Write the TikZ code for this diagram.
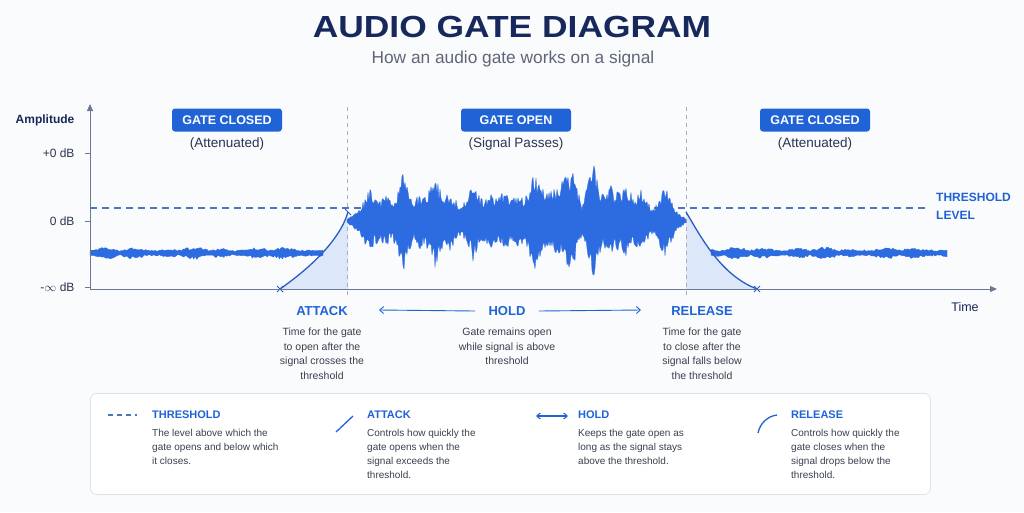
\documentclass[tikz,border=0pt]{standalone}
\usepackage{fontspec}
\setmainfont{Liberation Sans}
\usetikzlibrary{arrows.meta}
\definecolor{navy}{HTML}{16285C}
\definecolor{subgrey}{HTML}{5E6678}
\definecolor{accent}{HTML}{1F63D6}
\definecolor{sigblue}{HTML}{2C6BE0}
\definecolor{curveblue}{HTML}{2A5CC4}
\definecolor{axisc}{HTML}{6B7895}
\definecolor{vdash}{HTML}{A7AEBB}
\definecolor{thrc}{HTML}{4B74C4}
\definecolor{areablue}{HTML}{DCE7FA}
\definecolor{txt}{HTML}{39404E}
\definecolor{ticktxt}{HTML}{2A3450}
\definecolor{bg}{HTML}{FAFBFC}
\definecolor{boxline}{HTML}{DDE3EC}
\newcommand\fsz[2]{\fontsize{#1pt}{#2pt}\selectfont}
\begin{document}
\begin{tikzpicture}[x=1pt,y=-1pt,
  declare function={
    bp(\u,\c,\a)=\a*max(0,1-abs(\u-\c)/11);
    tap(\u)=min(1,max(0,(\u-347)/14),max(0,(686-\u)/14));
    envm(\u)=tap(\u)*(12+bp(\u,370,18)+bp(\u,386,12)+bp(\u,403,38)+bp(\u,420,15)+bp(\u,435,33)+bp(\u,450,17)+bp(\u,473,27)+bp(\u,490,14)+bp(\u,505,19)+bp(\u,520,14)+bp(\u,535,41)+bp(\u,550,20)+bp(\u,562,24)+bp(\u,572,38)+bp(\u,593,46)+bp(\u,610,25)+bp(\u,625,25)+bp(\u,640,19)+bp(\u,665,23))+2;
    envn(\u)=3+3.5*abs(sin(\u*6))*abs(sin(\u*2.3));
  },
  badge/.style={fill=accent, rounded corners=3pt, text=white, font=\bfseries\fsz{12.5}{14},
    minimum width=110pt, minimum height=23pt, inner sep=0pt},
  sublab/.style={text=ticktxt, font=\fsz{13.5}{15}},
  ticklab/.style={text=ticktxt, font=\fsz{12}{14}, anchor=east},
  axis/.style={draw=axisc, line width=1pt},
  vdashed/.style={draw=vdash, line width=0.8pt, dash pattern=on 4pt off 4pt},
  thr/.style={draw=thrc, line width=1.1pt, dash pattern=on 7pt off 5pt},
  sigfill/.style={fill=sigblue, draw=sigblue, line width=0.3pt, line join=round},
  env/.style={draw=curveblue, line width=1.3pt},
  mk/.style={draw=curveblue, line width=1pt},
  biglab/.style={text=accent, font=\bfseries\fsz{13}{15}},
  desc/.style={text=txt, font=\fsz{10.5}{14.8}, align=center, anchor=north, inner sep=0pt},
  legtitle/.style={text=accent, font=\bfseries\fsz{11}{13}, anchor=west, inner sep=0pt},
  legdesc/.style={text=txt, font=\fsz{10}{13.7}, align=left, anchor=north west, inner sep=0pt},
  harr/.style={draw=accent, line width=0.9pt, -{Straight Barb[length=4pt,width=7pt]}},
]
\pgfmathsetseed{11}
\useasboundingbox[fill=bg] (0,0) rectangle (1024,512);

% title
\node (title) at (512,27) {\scalebox{1.16}[1]{\bfseries\fsz{30.5}{34}\color{navy}AUDIO GATE DIAGRAM}};
\node (subtitle) at (513,59) {\fsz{17.3}{19}\color{subgrey}How an audio gate works on a signal};

% coordinates
\coordinate (O) at (90,289);
\coordinate (ytop) at (90,104);
\coordinate (xend) at (997,289);
\coordinate (thrL) at (90,208);
\coordinate (thrR) at (928,208);
\coordinate (vA1) at (347,107);
\coordinate (vA2) at (347,295);
\coordinate (vR1) at (686,107);
\coordinate (vR2) at (686,295);
\coordinate (atkS) at (280,289);
\coordinate (atkE) at (348,212);
\coordinate (relS) at (686,212);
\coordinate (relE) at (757,289);

% shaded attack / release areas
\fill[areablue] (atkS) .. controls (310,268) and (340,240) .. (atkE) -- (348,289) -- cycle;
\fill[areablue] (relS) .. controls (700,235) and (720,275) .. (relE) -- (686,289) -- cycle;

% dashed guides
\draw[vdashed] (vA1) -- (vA2);
\draw[vdashed] (vR1) -- (vR2);
\draw[thr] (thrL) -- (thrR);

% noise (gate closed)
\filldraw[sigfill] plot[domain=90:323, samples=156] (\x, {253-envn(\x)*(0.5+0.5*rnd)})
  -- plot[domain=323:90, samples=156] (\x, {253+envn(\x)*(0.5+0.5*rnd)}) -- cycle;
\filldraw[sigfill] plot[domain=711:947, samples=158] (\x, {253-envn(\x)*(0.5+0.5*rnd)})
  -- plot[domain=947:711, samples=158] (\x, {253+envn(\x)*(0.5+0.5*rnd)}) -- cycle;

% main signal (gate open)
\filldraw[sigfill] plot[domain=347:686, samples=340] (\x, {221-envm(\x)*(0.55+0.45*rnd)})
  -- plot[domain=686:347, samples=340] (\x, {221+envm(\x)*(0.55+0.45*rnd)}) -- cycle;

% attack / release curves
\draw[env] (atkS) .. controls (310,268) and (340,240) .. (atkE);
\draw[env] (relS) .. controls (700,235) and (720,275) .. (relE);
\draw[mk] ([shift={(-3,-3)}]atkS) -- ([shift={(3,3)}]atkS);
\draw[mk] ([shift={(-3,3)}]atkS) -- ([shift={(3,-3)}]atkS);
\draw[mk] ([shift={(-3,-3)}]atkE) -- ([shift={(3,3)}]atkE);
\draw[mk] ([shift={(-3,-3)}]relE) -- ([shift={(3,3)}]relE);
\draw[mk] ([shift={(-3,3)}]relE) -- ([shift={(3,-3)}]relE);

% axes
\draw[axis, -{Triangle[length=7pt,width=6pt]}] (O) -- (ytop);
\draw[axis, -{Triangle[length=7pt,width=6pt]}] (O) -- (xend);
\foreach \yy/\nm in {153/tp, 221/tz, 287/tm}{
  \coordinate (\nm a) at (85,\yy);
  \coordinate (\nm b) at (90,\yy);
  \draw[axis] (\nm a) -- (\nm b);
}
\node[ticklab] (lp) at (78,153) {+0 dB};
\node[ticklab] (lz) at (78,221) {0 dB};
\node[ticklab] (lm) at (78,287) {-$\infty$ dB};
\node[text=navy, font=\bfseries\fsz{12}{14}] (amp) at (45,120) {Amplitude};
\node[text=navy, font=\fsz{12.5}{14}] (time) at (965,307) {Time};
\node[text=accent, font=\bfseries\fsz{12}{18}, align=left, anchor=north west, inner sep=0pt] (thrlab) at (936,192.5) {THRESHOLD\\LEVEL};

% badges
\node[badge] (gc1) at (227,120) {GATE CLOSED};
\node[sublab] (s1) at (227,144) {(Attenuated)};
\node[badge] (go) at (516,120) {GATE OPEN};
\node[sublab] (s2) at (516,144) {(Signal Passes)};
\node[badge] (gc2) at (815,120) {GATE CLOSED};
\node[sublab] (s3) at (815,144) {(Attenuated)};

% phase labels
\node[biglab] (atk) at (322,311) {ATTACK};
\node[desc] (atkd) at (322,327.5) {Time for the gate\\to open after the\\signal crosses the\\threshold};
\node[biglab] (hold) at (507,311) {HOLD};
\node[desc] (holdd) at (507,327.5) {Gate remains open\\while signal is above\\threshold};
\node[biglab] (rel) at (702,311) {RELEASE};
\node[desc] (reld) at (702,327.5) {Time for the gate\\to close after the\\signal falls below\\the threshold};
\coordinate (holdL) at (379,310);
\coordinate (holdR) at (641,310);
\draw[harr] ([xshift=-10pt]hold.west) -- (holdL);
\draw[harr] ([xshift=10pt]hold.east) -- (holdR);

% legend
\node[draw=boxline, fill=white, rounded corners=6pt, line width=0.8pt, minimum width=840pt, minimum height=101pt, anchor=north west, inner sep=0pt] (legend) at (90,393) {};
\coordinate (l1a) at (108,415);
\coordinate (l1b) at (137,415);
\draw[draw=thrc, line width=1.3pt, dash pattern=on 5pt off 4pt] (l1a) -- (l1b);
\node[legtitle] (lt1) at (152,415) {THRESHOLD};
\node[legdesc] (ld1) at (152,429.5) {The level above which the\\gate opens and below which\\it closes.};

\coordinate (l2a) at (336,432);
\coordinate (l2b) at (353,416);
\draw[draw=accent, line width=1.3pt] (l2a) -- (l2b);
\node[legtitle] (lt2) at (367,415) {ATTACK};
\node[legdesc] (ld2) at (367,429.5) {Controls how quickly the\\gate opens when the\\signal exceeds the\\threshold.};

\coordinate (l3a) at (536,416);
\coordinate (l3b) at (568,416);
\draw[draw=accent, line width=1.1pt, {Straight Barb[length=3.5pt,width=6pt]}-{Straight Barb[length=3.5pt,width=6pt]}] (l3a) -- (l3b);
\node[legtitle] (lt3) at (578,415) {HOLD};
\node[legdesc] (ld3) at (578,429.5) {Keeps the gate open as\\long as the signal stays\\above the threshold.};

\coordinate (l4a) at (758,433);
\coordinate (l4b) at (777,415);
\draw[draw=accent, line width=1.3pt] (l4a) .. controls (760,423) and (768,416) .. (l4b);
\node[legtitle] (lt4) at (791,415) {RELEASE};
\node[legdesc] (ld4) at (791,429.5) {Controls how quickly the\\gate closes when the\\signal drops below the\\threshold.};
\end{tikzpicture}
\end{document}
